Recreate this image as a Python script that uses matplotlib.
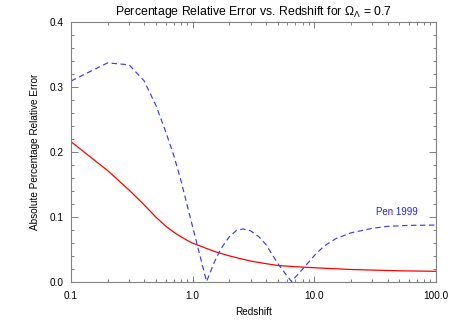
import matplotlib
matplotlib.use("Agg")
import matplotlib.pyplot as plt
from matplotlib.ticker import FixedLocator, MultipleLocator, FixedFormatter, NullFormatter

plt.rcParams['font.family'] = ['Liberation Sans', 'DejaVu Sans']
plt.rcParams['mathtext.fontset'] = 'custom'
plt.rcParams['mathtext.rm'] = 'Liberation Sans'
plt.rcParams['mathtext.it'] = 'Liberation Sans:italic'

# redshift grid + error of the fit (red) and of Pen 1999 (blue dashed)
z_fit = [0.1, 0.2, 0.3, 0.4, 0.5, 0.6, 0.7, 0.8, 0.9, 1.0, 1.2, 1.5, 2.0,
         2.5, 3.0, 4.0, 5.0, 7.0, 10, 20, 30, 50, 100]
err_fit = [0.2155, 0.171, 0.141, 0.118, 0.099, 0.0855, 0.076, 0.069, 0.0635,
           0.059, 0.0535, 0.0465, 0.0395, 0.035, 0.0315, 0.0275, 0.0247,
           0.0228, 0.0212, 0.0185, 0.0176, 0.0165, 0.0157]

z_pen = [0.1, 0.2, 0.3, 0.4, 0.5, 0.6, 0.7, 0.8, 0.9, 1.0, 1.1, 1.2, 1.3,
         1.5, 1.7, 2.0, 2.3, 2.6, 3.0, 3.5, 4.0, 5.0, 6.0, 6.5, 7.0, 8.0,
         10, 12, 15, 20, 30, 40, 60, 100]
err_pen = [0.309, 0.337, 0.334, 0.309, 0.271, 0.231, 0.194, 0.156, 0.118,
           0.084, 0.0535, 0.0257, 0.0, 0.029, 0.050, 0.069, 0.079, 0.081,
           0.078, 0.069, 0.057, 0.028, 0.008, 0.0, 0.007, 0.019, 0.040,
           0.0545, 0.066, 0.075, 0.082, 0.085, 0.0865, 0.087]

xticks = [0.1, 1.0, 10.0, 100.0]
xlabels = ['0.1', '1.0', '10.0', '100.0']

fig = plt.figure(figsize=(4.58, 3.27), dpi=100)
ax = fig.add_axes([71/458, 1-281.5/327, 365/458, 259.5/327])

ax.plot(z_fit, err_fit, color='red', lw=0.9)
ax.plot(z_pen, err_pen, color='#3a3aff', lw=0.85, dashes=(4.6, 3.0))
ax.text(32, 0.1066, 'Pen 1999', color='#2222ff', fontsize=7, ha='left', va='center')

ax.set_xscale('log')
ax.set_xlim(0.1, 100)
ax.set_ylim(0, 0.4)

ax.xaxis.set_major_locator(FixedLocator(xticks))
ax.xaxis.set_major_formatter(FixedFormatter(xlabels))
ax.xaxis.set_minor_formatter(NullFormatter())
ax.yaxis.set_major_locator(MultipleLocator(0.1))
ax.yaxis.set_minor_locator(MultipleLocator(0.02))
ax.yaxis.set_major_formatter(plt.FuncFormatter(lambda v, p: '%.1f' % v))

ax.tick_params(which='both', direction='in', top=True, right=True,
               color='gray', width=0.7, labelsize=7.2, labelcolor='black')
ax.tick_params(axis='x', which='major', length=4.3, pad=7)
ax.tick_params(axis='x', which='minor', length=2)
ax.tick_params(axis='y', which='major', length=5, pad=5)
ax.tick_params(axis='y', which='minor', length=2.2)
for s in ax.spines.values():
    s.set_color('gray')
    s.set_linewidth(0.8)

ax.set_xlabel('Redshift', fontsize=7.2, labelpad=4)
ax.set_ylabel('Absolute Percentage Relative Error', fontsize=7.2)
ax.yaxis.set_label_coords(-31/365, 0.5)
fig.text(254/458, 1-12/327, r'Percentage Relative Error vs. Redshift for $\Omega_\Lambda$ = 0.7',
         fontsize=8.8, ha='center', va='center')

fig.savefig('out.png', dpi=100)
